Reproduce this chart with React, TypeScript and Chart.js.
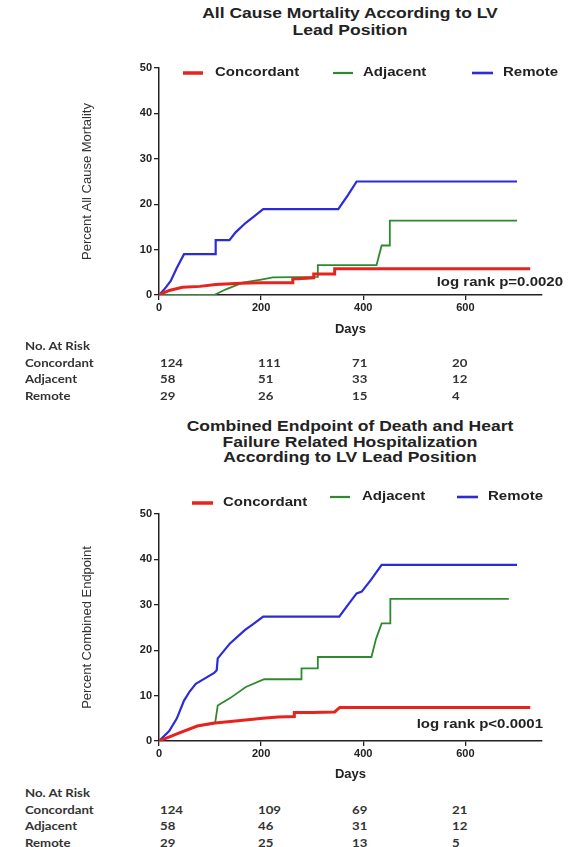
import React, { useEffect, useRef } from "react";
import { Chart, registerables } from "chart.js";

Chart.register(...registerables);

// ---------- text & categories ----------
const TITLE_MORTALITY = ["All Cause Mortality According to LV", "Lead Position"];
const TITLE_COMBINED = [
  "Combined Endpoint of Death and Heart",
  "Failure Related Hospitalization",
  "According to LV Lead Position",
];
const Y_LABEL_MORTALITY = "Percent All Cause Mortality";
const Y_LABEL_COMBINED = "Percent Combined Endpoint";
const X_LABEL = "Days";
const LOGRANK_MORTALITY = "log rank p=0.0020";
const LOGRANK_COMBINED = "log rank p<0.0001";
const SERIES_NAMES = ["Concordant", "Adjacent", "Remote"];
const SERIES_COLORS = ["#e8221c", "#2f8a2f", "#2b2bd8"];
const X_TICKS = [0, 200, 400, 600];
const Y_TICKS = [0, 10, 20, 30, 40, 50];
const X_MAX = 750;
const Y_MAX = 50;

// ---------- All cause mortality curves ----------
const mortConcordantDays = [0, 20, 46, 80, 111, 160, 200, 262, 262, 303, 303, 344, 344, 727];
const mortConcordantPct = [0, 1.0, 1.7, 1.9, 2.3, 2.6, 2.7, 2.7, 3.5, 3.8, 4.6, 4.6, 5.8, 5.8];

const mortAdjacentDays = [0, 108, 130, 164, 200, 223, 311, 311, 426, 436, 452, 452, 701];
const mortAdjacentPct = [0, 0, 1.2, 2.7, 3.4, 3.9, 4.0, 6.6, 6.6, 10.9, 10.9, 16.4, 16.4];

const mortRemoteDays = [0, 10, 23, 35, 49, 111, 111, 138, 150, 170, 185, 204, 351, 370, 387, 701];
const mortRemotePct = [0, 1.2, 3.1, 6.0, 9.0, 9.0, 12.1, 12.1, 13.8, 15.9, 17.2, 18.9, 18.9, 22.0, 25.0, 25.0];

// ---------- Combined endpoint curves ----------
const combConcordantDays = [0, 40, 75, 105, 150, 203, 233, 265, 265, 300, 344, 354, 727];
const combConcordantPct = [0, 1.8, 3.3, 3.9, 4.4, 5.0, 5.3, 5.4, 6.3, 6.3, 6.4, 7.4, 7.4];

const combAdjacentDays = [0, 40, 75, 105, 110, 115, 140, 170, 206, 279, 279, 311, 311, 416, 425, 436, 453, 453, 685];
const combAdjacentPct = [0, 1.8, 3.3, 3.8, 4.0, 7.8, 9.5, 11.9, 13.6, 13.6, 16.0, 16.0, 18.5, 18.5, 22.5, 25.9, 25.9, 31.3, 31.3];

const combRemoteDays = [0, 20, 35, 49, 60, 72, 90, 108, 113, 115, 139, 168, 185, 204, 353, 370, 387, 397, 415, 436, 701];
const combRemotePct = [0, 2.2, 5.0, 8.9, 10.9, 12.6, 13.8, 15.0, 15.6, 18.2, 21.5, 24.4, 25.8, 27.4, 27.4, 30.0, 32.5, 32.9, 35.5, 38.8, 38.8];

// ---------- Numbers at risk ----------
const RISK_HEADER = "No. At Risk";
const riskMortConcordant = [124, 111, 71, 20];
const riskMortAdjacent = [58, 51, 33, 12];
const riskMortRemote = [29, 26, 15, 4];
const riskCombConcordant = [124, 109, 69, 21];
const riskCombAdjacent = [58, 46, 31, 12];
const riskCombRemote = [29, 25, 13, 5];

// ---------- styling ----------
const FONT = "'Liberation Sans', Arial, Helvetica, sans-serif";
const TABLE_FONT = "Lato, 'Open Sans', sans-serif";
const INK = "#222";
const STRETCH = 1.25;
const LINE_WIDTHS = [3, 1.8, 2.2];
const LEGEND_LINE_WIDTHS = [3.5, 2.2, 2.6];

const toPoints = (days: number[], pct: number[]) => days.map((d, i) => ({ x: d, y: pct[i] }));

type LegendPos = { lineX: number; lineW: number; textX: number; y: number };

const kmTextPlugin = {
  id: "kmText",
  afterDraw(chart: any, _args: any, opts: any) {
    const ctx = chart.ctx;
    ctx.save();
    ctx.font = `bold 12px ${FONT}`;
    ctx.textBaseline = "middle";
    ctx.fillStyle = INK;
    (opts.legend || []).forEach((p: LegendPos, i: number) => {
      const ds = chart.data.datasets[i];
      ctx.strokeStyle = ds.borderColor;
      ctx.lineWidth = LEGEND_LINE_WIDTHS[i];
      ctx.beginPath();
      ctx.moveTo(p.lineX, p.y);
      ctx.lineTo(p.lineX + p.lineW, p.y);
      ctx.stroke();
      ctx.save();
      ctx.translate(p.textX, p.y);
      ctx.scale(STRETCH, 1);
      ctx.textAlign = "left";
      ctx.fillText(ds.label, 0, 0);
      ctx.restore();
    });
    if (opts.note) {
      ctx.save();
      ctx.translate(opts.note.right, opts.note.y);
      ctx.scale(STRETCH, 1);
      ctx.textAlign = "right";
      ctx.fillText(opts.note.text, 0, 0);
      ctx.restore();
    }
    ctx.restore();
  },
};

function makeConfig(
  series: { days: number[]; pct: number[] }[],
  yLabel: string,
  padTop: number,
  xBoxH: number,
  legend: LegendPos[],
  note: { text: string; right: number; y: number }
): any {
  const axisCommon = {
    grid: { display: true, drawOnChartArea: false, drawTicks: true, tickLength: 5, color: INK, lineWidth: 1.3 },
    border: { display: true, color: INK, width: 1.5 },
  };
  return {
    type: "line",
    data: {
      datasets: series.map((s, i) => ({
        label: SERIES_NAMES[i],
        data: toPoints(s.days, s.pct),
        borderColor: SERIES_COLORS[i],
        backgroundColor: SERIES_COLORS[i],
        borderWidth: LINE_WIDTHS[i],
        pointRadius: 0,
        tension: 0,
        fill: false,
      })),
    },
    options: {
      animation: false,
      responsive: false,
      layout: { padding: { top: padTop, right: 31, bottom: 0, left: 0 } },
      plugins: {
        legend: { display: false },
        title: { display: false },
        tooltip: { enabled: false },
        kmText: { legend, note },
      },
      scales: {
        x: {
          type: "linear",
          min: 0,
          max: X_MAX,
          afterBuildTicks: (s: any) => {
            s.ticks = X_TICKS.map((v) => ({ value: v }));
          },
          afterFit: (s: any) => {
            s.height = xBoxH;
          },
          ticks: { font: { family: FONT, size: 11, weight: "bold" }, color: INK, padding: 1, maxRotation: 0 },
          title: {
            display: true,
            text: X_LABEL,
            color: INK,
            font: { family: FONT, size: 13, weight: "bold" },
            padding: { top: 0, bottom: 3 },
          },
          ...axisCommon,
        },
        y: {
          type: "linear",
          min: 0,
          max: Y_MAX,
          afterBuildTicks: (s: any) => {
            s.ticks = Y_TICKS.map((v) => ({ value: v }));
          },
          afterFit: (s: any) => {
            s.width = 159;
          },
          ticks: { font: { family: FONT, size: 11, weight: "bold" }, color: INK, padding: 2 },
          title: {
            display: true,
            text: yLabel,
            color: "#333",
            font: { family: FONT, size: 13, weight: "normal" },
            padding: { top: 80, bottom: 0 },
          },
          ...axisCommon,
        },
      },
    },
    plugins: [kmTextPlugin],
  };
}

function KMChart(props: { top: number; height: number; config: any }) {
  const ref = useRef<HTMLCanvasElement | null>(null);
  useEffect(() => {
    if (!ref.current) return;
    const chart = new Chart(ref.current, props.config);
    return () => chart.destroy();
  }, []);
  return (
    <canvas
      ref={ref}
      width={573}
      height={props.height}
      style={{ position: "absolute", left: 0, top: props.top, width: 573, height: props.height }}
    />
  );
}

function Title(props: { lines: string[]; top: number; lineH: number }) {
  return (
    <div
      style={{
        position: "absolute",
        left: 350,
        top: props.top,
        transform: `translateX(-50%) scaleX(${STRETCH})`,
        transformOrigin: "center top",
        fontFamily: FONT,
        fontWeight: "bold",
        fontSize: 14,
        lineHeight: `${props.lineH}px`,
        color: INK,
        textAlign: "center",
        whiteSpace: "nowrap",
      }}
    >
      {props.lines.map((l, i) => (
        <div key={i}>{l}</div>
      ))}
    </div>
  );
}

const COL_X = [160, 258, 352, 452];

function RiskTable(props: { top: number; rows: number[][] }) {
  const cell = (text: string | number, x: number, y: number, key: string) => (
    <div
      key={key}
      style={{
        position: "absolute",
        left: x,
        top: y,
        transform: "translateY(-50%) scaleX(1.2)",
        transformOrigin: "left center",
        fontFamily: TABLE_FONT,
        fontWeight: 700,
        fontSize: 11,
        lineHeight: "13px",
        color: "#333",
        whiteSpace: "nowrap",
      }}
    >
      {text}
    </div>
  );
  const out: any[] = [cell(RISK_HEADER, 25, props.top, "h")];
  props.rows.forEach((row, r) => {
    const y = props.top + 16.5 * (r + 1);
    out.push(cell(SERIES_NAMES[r], 25, y, `n${r}`));
    row.forEach((v, c) => out.push(cell(v, COL_X[c], y, `v${r}-${c}`)));
  });
  return <>{out}</>;
}

export default function App() {
  const cfgMortality = makeConfig(
    [
      { days: mortConcordantDays, pct: mortConcordantPct },
      { days: mortAdjacentDays, pct: mortAdjacentPct },
      { days: mortRemoteDays, pct: mortRemotePct },
    ],
    Y_LABEL_MORTALITY,
    68,
    45,
    [
      { lineX: 183, lineW: 20, textX: 215, y: 73 },
      { lineX: 333, lineW: 20, textX: 363, y: 73 },
      { lineX: 472, lineW: 21, textX: 503, y: 73 },
    ],
    { text: LOGRANK_MORTALITY, right: 563, y: 283 }
  );
  const cfgCombined = makeConfig(
    [
      { days: combConcordantDays, pct: combConcordantPct },
      { days: combAdjacentDays, pct: combAdjacentPct },
      { days: combRemoteDays, pct: combRemotePct },
    ],
    Y_LABEL_COMBINED,
    44,
    44,
    [
      { lineX: 192, lineW: 21, textX: 223, y: 33 },
      { lineX: 330, lineW: 20, textX: 362, y: 27 },
      { lineX: 457, lineW: 21, textX: 488, y: 27 },
    ],
    { text: LOGRANK_COMBINED, right: 543, y: 255 }
  );
  return (
    <div style={{ position: "absolute", left: 0, top: 0, width: 573, height: 847, background: "#fff", overflow: "hidden" }}>
      <Title lines={TITLE_MORTALITY} top={4.5} lineH={17} />
      <KMChart top={0} height={340} config={cfgMortality} />
      <RiskTable top={345} rows={[riskMortConcordant, riskMortAdjacent, riskMortRemote]} />
      <Title lines={TITLE_COMBINED} top={419} lineH={15.5} />
      <KMChart top={470} height={315} config={cfgCombined} />
      <RiskTable top={792} rows={[riskCombConcordant, riskCombAdjacent, riskCombRemote]} />
    </div>
  );
}
